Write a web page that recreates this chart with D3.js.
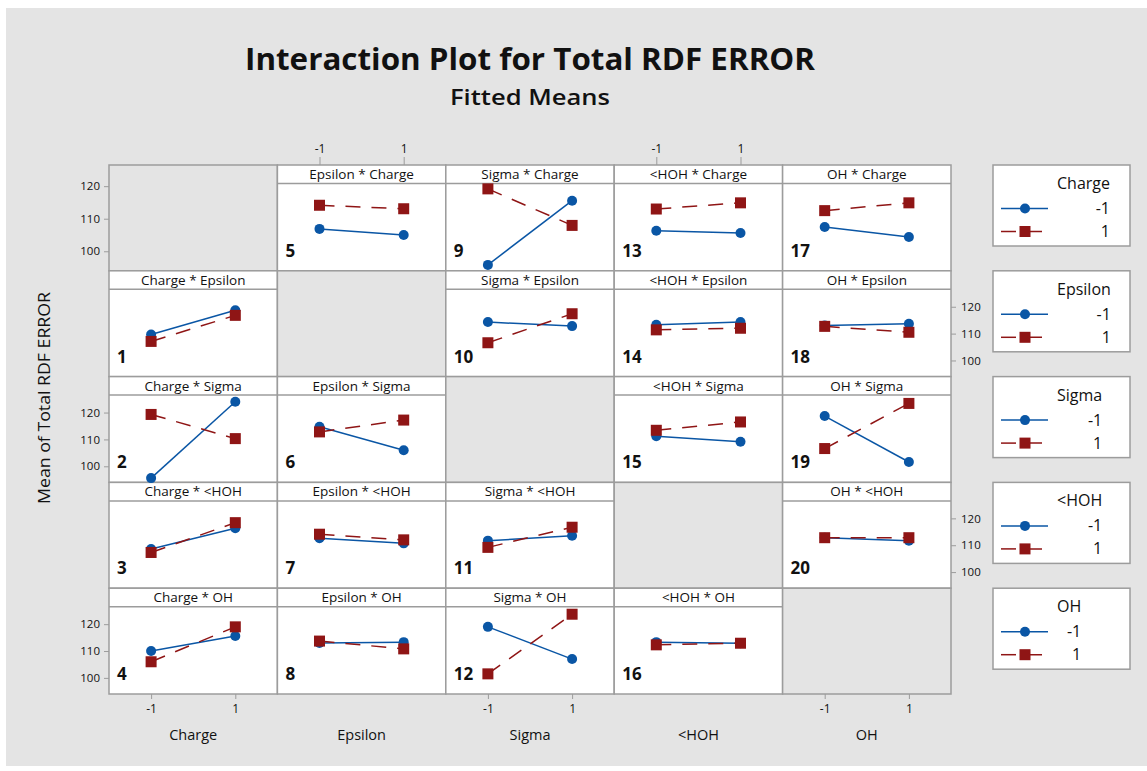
<!DOCTYPE html>
<html>
<head>
<meta charset="utf-8">
<script src="https://cdn.jsdelivr.net/npm/d3@7"></script>
<style>
body { margin: 0; background: #fff; }
text { font-family: "Open Sans", "Noto Sans", sans-serif; fill: #111; }
</style>
</head>
<body>
<svg id="chart" width="1147" height="771"></svg>
<script>
var factors = ['Charge', 'Epsilon', 'Sigma', '<HOH', 'OH'];
var levels = [-1, 1];
var yTicks = [100, 110, 120];

// panel number, column (x factor) and row (trace factor)
var panelNums = [1, 2, 3, 4, 5, 6, 7, 8, 9, 10, 11, 12, 13, 14, 15, 16, 17, 18, 19, 20];
var panelCol = [0, 0, 0, 0, 1, 1, 1, 1, 2, 2, 2, 2, 3, 3, 3, 3, 4, 4, 4, 4];
var panelRow = [1, 2, 3, 4, 0, 2, 3, 4, 0, 1, 3, 4, 0, 1, 2, 4, 0, 1, 2, 3];

// fitted means, trace level -1 (blue) at x = -1 and x = 1
var lowMeans = [
  [109.7, 118.7], [95.6, 124.0], [108.6, 116.3], [110.0, 115.6],
  [109.6, 107.3], [114.7, 106.0], [112.6, 110.7], [113.0, 113.3],
  [96.2, 120.1], [114.3, 112.8], [111.7, 113.5], [119.0, 107.0],
  [108.9, 108.1], [113.3, 114.3], [111.2, 109.1], [113.3, 112.9],
  [110.3, 106.6], [113.0, 113.7], [118.7, 101.6], [112.8, 111.7]
];
// trace level 1 (red)
var highMeans = [
  [107.1, 116.8], [119.3, 110.3], [107.3, 118.4], [106.0, 119.0],
  [118.4, 117.1], [112.8, 117.2], [114.1, 112.0], [113.7, 110.8],
  [124.5, 110.9], [106.6, 117.4], [109.2, 116.7], [101.5, 123.7],
  [117.0, 119.3], [111.4, 112.0], [113.4, 116.5], [112.3, 112.9],
  [116.4, 119.3], [112.7, 110.5], [106.6, 123.4], [112.8, 112.8]
];

var svg = d3.select('#chart');
var left = 109, top_ = 165, colW = 168.4, rowH = 105.8, stripH = 18.5;
var gridColor = '#9c9c9c';
var blue = '#0a56a5', red = '#8f1515';
var bg = '#e4e4e4';

svg.append('rect').attr('x', 6).attr('y', 8).attr('width', 1141).attr('height', 758).attr('fill', bg);

svg.append('text').attr('x', 530).attr('y', 70).attr('text-anchor', 'middle')
  .attr('font-size', 31).attr('font-weight', 'bold')
  .attr('textLength', 570).attr('lengthAdjust', 'spacingAndGlyphs')
  .text('Interaction Plot for Total RDF ERROR');
svg.append('text').attr('x', 530).attr('y', 105).attr('text-anchor', 'middle')
  .attr('font-size', 22).attr('font-weight', 600)
  .attr('textLength', 160).attr('lengthAdjust', 'spacingAndGlyphs')
  .text('Fitted Means');

var xScale = function(c) {
  return d3.scaleLinear().domain([-2, 2]).range([left + c * colW, left + (c + 1) * colW]);
};
var yScale = function(r) {
  return d3.scaleLinear().domain([94, 126.5]).range([top_ + (r + 1) * rowH, top_ + r * rowH + stripH]);
};

// cells
for (var r = 0; r < 5; r++) {
  for (var c = 0; c < 5; c++) {
    var cx = left + c * colW, cy = top_ + r * rowH;
    svg.append('rect').attr('x', cx).attr('y', cy).attr('width', colW).attr('height', rowH)
      .attr('fill', r === c ? bg : '#fff').attr('stroke', gridColor).attr('stroke-width', 1.5);
    if (r !== c) {
      svg.append('line').attr('x1', cx).attr('x2', cx + colW)
        .attr('y1', cy + stripH).attr('y2', cy + stripH)
        .attr('stroke', gridColor).attr('stroke-width', 1.5);
      svg.append('text').attr('x', cx + colW / 2).attr('y', cy + 14)
        .attr('text-anchor', 'middle').attr('font-size', 13.5)
        .text(factors[c] + ' * ' + factors[r]);
    }
  }
}

var line = d3.line();
panelNums.forEach(function(num, i) {
  var x = xScale(panelCol[i]), y = yScale(panelRow[i]);
  var g = svg.append('g');
  var bluePts = levels.map(function(l, j) { return [x(l), y(lowMeans[i][j])]; });
  var redPts = levels.map(function(l, j) { return [x(l), y(highMeans[i][j])]; });
  g.append('path').attr('d', line(bluePts)).attr('stroke', blue).attr('stroke-width', 1.5).attr('fill', 'none');
  g.selectAll('circle').data(bluePts).enter().append('circle')
    .attr('cx', function(d) { return d[0]; }).attr('cy', function(d) { return d[1]; })
    .attr('r', 5).attr('fill', blue);
  g.append('path').attr('d', line(redPts)).attr('stroke', red).attr('stroke-width', 1.5)
    .attr('stroke-dasharray', '15,11').attr('fill', 'none');
  g.selectAll('rect').data(redPts).enter().append('rect')
    .attr('x', function(d) { return d[0] - 5.5; }).attr('y', function(d) { return d[1] - 5.5; })
    .attr('width', 11).attr('height', 11).attr('fill', red);
  g.append('text').attr('x', left + panelCol[i] * colW + 8)
    .attr('y', top_ + (panelRow[i] + 1) * rowH - 14)
    .attr('font-size', 17).attr('font-weight', 'bold').text(num);
});

var styleAxis = function(g, size) {
  g.select('.domain').remove();
  g.selectAll('.tick line').attr('stroke', gridColor);
  g.selectAll('.tick text').attr('font-size', size).attr('fill', '#222')
    .style('font-family', '"Open Sans", "Noto Sans", sans-serif');
};
var fmt = function(d) { return String(d); };

// left y axes (row 0 is beside the empty cell, so spans the full cell)
[0, 2, 4].forEach(function(r) {
  var y = r === 0
    ? d3.scaleLinear().domain([94, 126.5]).range([top_ + rowH, top_])
    : yScale(r);
  svg.append('g').attr('transform', 'translate(' + left + ',0)')
    .call(d3.axisLeft(y).tickValues(yTicks).tickSize(5).tickPadding(4))
    .call(styleAxis, 11.5);
});
// right y axes
[1, 3].forEach(function(r) {
  svg.append('g').attr('transform', 'translate(' + (left + 5 * colW) + ',0)')
    .call(d3.axisRight(yScale(r)).tickValues(yTicks).tickSize(5).tickPadding(5))
    .call(styleAxis, 11.5);
});
// top x axes
[1, 3].forEach(function(c) {
  svg.append('g').attr('transform', 'translate(0,' + top_ + ')')
    .call(d3.axisTop(xScale(c)).tickValues(levels).tickFormat(fmt).tickSize(8).tickPadding(4))
    .call(styleAxis, 12);
});
// bottom x axes
[0, 2, 4].forEach(function(c) {
  svg.append('g').attr('transform', 'translate(0,' + (top_ + 5 * rowH) + ')')
    .call(d3.axisBottom(xScale(c)).tickValues(levels).tickFormat(fmt).tickSize(5).tickPadding(5))
    .call(styleAxis, 12);
});
factors.forEach(function(f, c) {
  svg.append('text').attr('x', left + (c + 0.5) * colW).attr('y', 740)
    .attr('text-anchor', 'middle').attr('font-size', 14.5).text(f);
});

svg.append('text').attr('transform', 'translate(50,398) rotate(-90)')
  .attr('text-anchor', 'middle').attr('font-size', 16)
  .attr('textLength', 212).attr('lengthAdjust', 'spacingAndGlyphs')
  .text('Mean of Total RDF ERROR');

// legends
factors.forEach(function(f, r) {
  var ty = top_ + r * rowH;
  var g = svg.append('g');
  g.append('rect').attr('x', 993).attr('y', ty).attr('width', 137).attr('height', 81)
    .attr('fill', '#fff').attr('stroke', gridColor).attr('stroke-width', 1.5);
  var title = g.append('text').attr('x', 1057).attr('y', ty + 24).attr('font-size', 16).text(f);
  var labelEnd = 1057 + title.node().getComputedTextLength();
  [[blue, null], [red, '15,11']].forEach(function(s, j) {
    var ly = ty + 43.5 + j * 23;
    g.append('line').attr('x1', 1001).attr('x2', 1048).attr('y1', ly).attr('y2', ly)
      .attr('stroke', s[0]).attr('stroke-width', 1.5).attr('stroke-dasharray', s[1]);
    if (j === 0) {
      g.append('circle').attr('cx', 1025).attr('cy', ly).attr('r', 5).attr('fill', s[0]);
    } else {
      g.append('rect').attr('x', 1019.5).attr('y', ly - 5.5).attr('width', 11).attr('height', 11).attr('fill', s[0]);
    }
    g.append('text').attr('x', labelEnd).attr('y', ly + 5.5).attr('text-anchor', 'end')
      .attr('font-size', 16).text(fmt(levels[j]));
  });
});
</script>
</body>
</html>
